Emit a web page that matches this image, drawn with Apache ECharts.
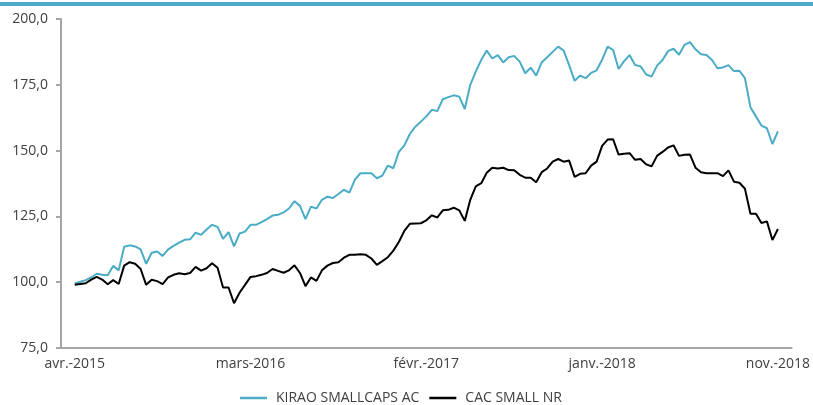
<!DOCTYPE html>
<html>
<head>
<meta charset="utf-8">
<script src="https://cdn.jsdelivr.net/npm/echarts@6/dist/echarts.min.js"></script>
<style>
  html, body { margin: 0; padding: 0; background: #fff; }
  #chart { width: 813px; height: 405px; }
</style>
</head>
<body>
<div id="chart"></div>
<script>
// libellés de l'axe des dates (un tous les 32 points)
var tickLabels = ['avr.-2015', 'mars-2016', 'févr.-2017', 'janv.-2018', 'nov.-2018'];
var tickStep = 32;

var kirao = [
    99.4, 100.2, 100.8, 101.8, 103.2, 102.8, 102.6, 106.2, 104.5, 113.5,
    114.0, 113.6, 112.5, 107.0, 111.2, 111.7, 110.0, 112.5, 113.8, 115.0,
    116.1, 116.3, 118.8, 118.0, 120.0, 121.8, 121.0, 116.5, 119.0, 113.6,
    118.5, 119.2, 121.8, 121.8, 122.8, 124.0, 125.3, 125.6, 126.5, 128.0,
    130.8, 129.0, 124.0, 128.7, 128.0, 131.3, 132.5, 132.0, 133.5, 135.1,
    134.0, 139.0, 141.4, 141.4, 141.4, 139.5, 140.5, 144.3, 143.3, 149.5,
    152.0, 156.3, 159.1, 161.0, 163.0, 165.5, 165.0, 169.5, 170.3, 171.0,
    170.5, 165.8, 175.0, 180.0, 184.5, 188.0, 185.0, 186.3, 183.5, 185.5,
    186.0, 183.8, 179.4, 181.5, 178.5, 183.5, 185.5, 187.5, 189.5, 188.0,
    182.5, 176.5, 178.5, 177.5, 179.5, 180.5, 184.5, 189.5, 188.3, 181.0,
    184.0, 186.3, 182.5, 182.0, 179.0, 178.1, 182.3, 184.4, 187.8, 188.7,
    186.4, 190.2, 191.2, 188.5, 186.6, 186.3, 184.4, 181.3, 181.6, 182.5,
    180.2, 180.3, 177.5, 166.5, 163.0, 159.5, 158.5, 152.5, 157.3
];

var cacSmall = [
    99.0, 99.3, 99.6, 101.0, 102.0, 101.0, 99.2, 100.8, 99.3, 106.3,
    107.6, 107.0, 105.0, 99.0, 100.9, 100.4, 99.3, 101.8, 102.8, 103.4,
    103.0, 103.5, 105.8, 104.4, 105.3, 107.2, 105.5, 98.0, 98.0, 92.0,
    96.0, 99.0, 102.0, 102.3, 102.8, 103.5, 105.0, 104.3, 103.6, 104.5,
    106.4, 103.5, 98.5, 101.8, 100.5, 104.5, 106.3, 107.3, 107.6, 109.3,
    110.4, 110.4, 110.6, 110.4, 109.0, 106.6, 108.0, 109.5, 112.0, 115.3,
    119.5, 122.2, 122.3, 122.4, 123.5, 125.4, 124.6, 127.3, 127.5, 128.3,
    127.3, 123.3, 131.3, 136.4, 137.6, 141.6, 143.5, 143.2, 143.5, 142.6,
    142.5, 140.8, 139.7, 139.7, 138.0, 141.8, 143.2, 145.8, 146.8, 145.8,
    146.2, 140.0, 141.2, 141.4, 144.3, 145.8, 151.8, 154.2, 154.3, 148.5,
    148.8, 149.0, 146.5, 146.8, 144.8, 144.0, 148.0, 149.5, 151.2, 152.0,
    148.0, 148.4, 148.5, 143.5, 141.8, 141.4, 141.4, 141.4, 140.3, 142.5,
    138.2, 137.8, 135.5, 126.0, 126.0, 122.5, 123.1, 116.0, 120.2
];

var PAD = 2;
var n = kirao.length;
var categories = [];
for (var i = 0; i < n + 2 * PAD; i++) categories.push(String(i));

function padded(arr) {
    var out = [];
    for (var i = 0; i < PAD; i++) out.push(null);
    out = out.concat(arr);
    for (var j = 0; j < PAD; j++) out.push(null);
    return out;
}

function isTick(index) {
    var k = index - PAD;
    return k >= 0 && k < n && k % tickStep === 0;
}

var myChart = echarts.init(document.getElementById('chart'));
var txt = '#404040';
var axisGray = '#a6a6a6';
var font = '"Open Sans", sans-serif';

var option = {
    animation: false,
    backgroundColor: '#fff',
    graphic: [{
        type: 'rect',
        shape: { x: 0, y: 2, width: 813, height: 4 },
        style: { fill: '#4bacc6' }
    }],
    grid: { left: 61, top: 19, right: 18.4, bottom: 57 },
    legend: {
        left: 235,
        top: 386,
        icon: 'rect',
        itemWidth: 27,
        itemHeight: 2.5,
        itemGap: 10,
        textStyle: { color: txt, fontSize: 14, fontFamily: font, padding: [0, 0, 0, 4] },
        data: ['KIRAO SMALLCAPS AC', 'CAC SMALL NR']
    },
    xAxis: {
        type: 'category',
        data: categories,
        boundaryGap: true,
        axisLine: { lineStyle: { color: axisGray, width: 2 } },
        axisTick: {
            alignWithLabel: true,
            length: 5,
            interval: function (index) { return isTick(index); },
            lineStyle: { color: axisGray, width: 2 }
        },
        axisLabel: {
            interval: function (index) { return isTick(index); },
            formatter: function (value, index) {
                return tickLabels[(index - PAD) / tickStep];
            },
            margin: 9,
            color: txt,
            fontSize: 14,
            fontFamily: font
        },
        splitLine: { show: false }
    },
    yAxis: {
        type: 'value',
        min: 75,
        max: 200,
        interval: 25,
        axisLine: { show: true, lineStyle: { color: axisGray, width: 2 } },
        axisTick: { show: true, length: 5, lineStyle: { color: axisGray, width: 2 } },
        axisLabel: {
            margin: 13,
            color: txt,
            fontSize: 14,
            fontFamily: font,
            formatter: function (v) { return v.toFixed(1).replace('.', ','); }
        },
        splitLine: { show: false }
    },
    series: [{
        name: 'KIRAO SMALLCAPS AC',
        type: 'line',
        data: padded(kirao),
        symbol: 'none',
        color: '#4bacc6',
        lineStyle: { width: 2, color: '#4bacc6' }
    }, {
        name: 'CAC SMALL NR',
        type: 'line',
        data: padded(cacSmall),
        symbol: 'none',
        color: '#000',
        lineStyle: { width: 2, color: '#000' }
    }]
};
myChart.setOption(option);
window.addEventListener('resize', function () {
    myChart.resize();
});
</script>
</body>
</html>
